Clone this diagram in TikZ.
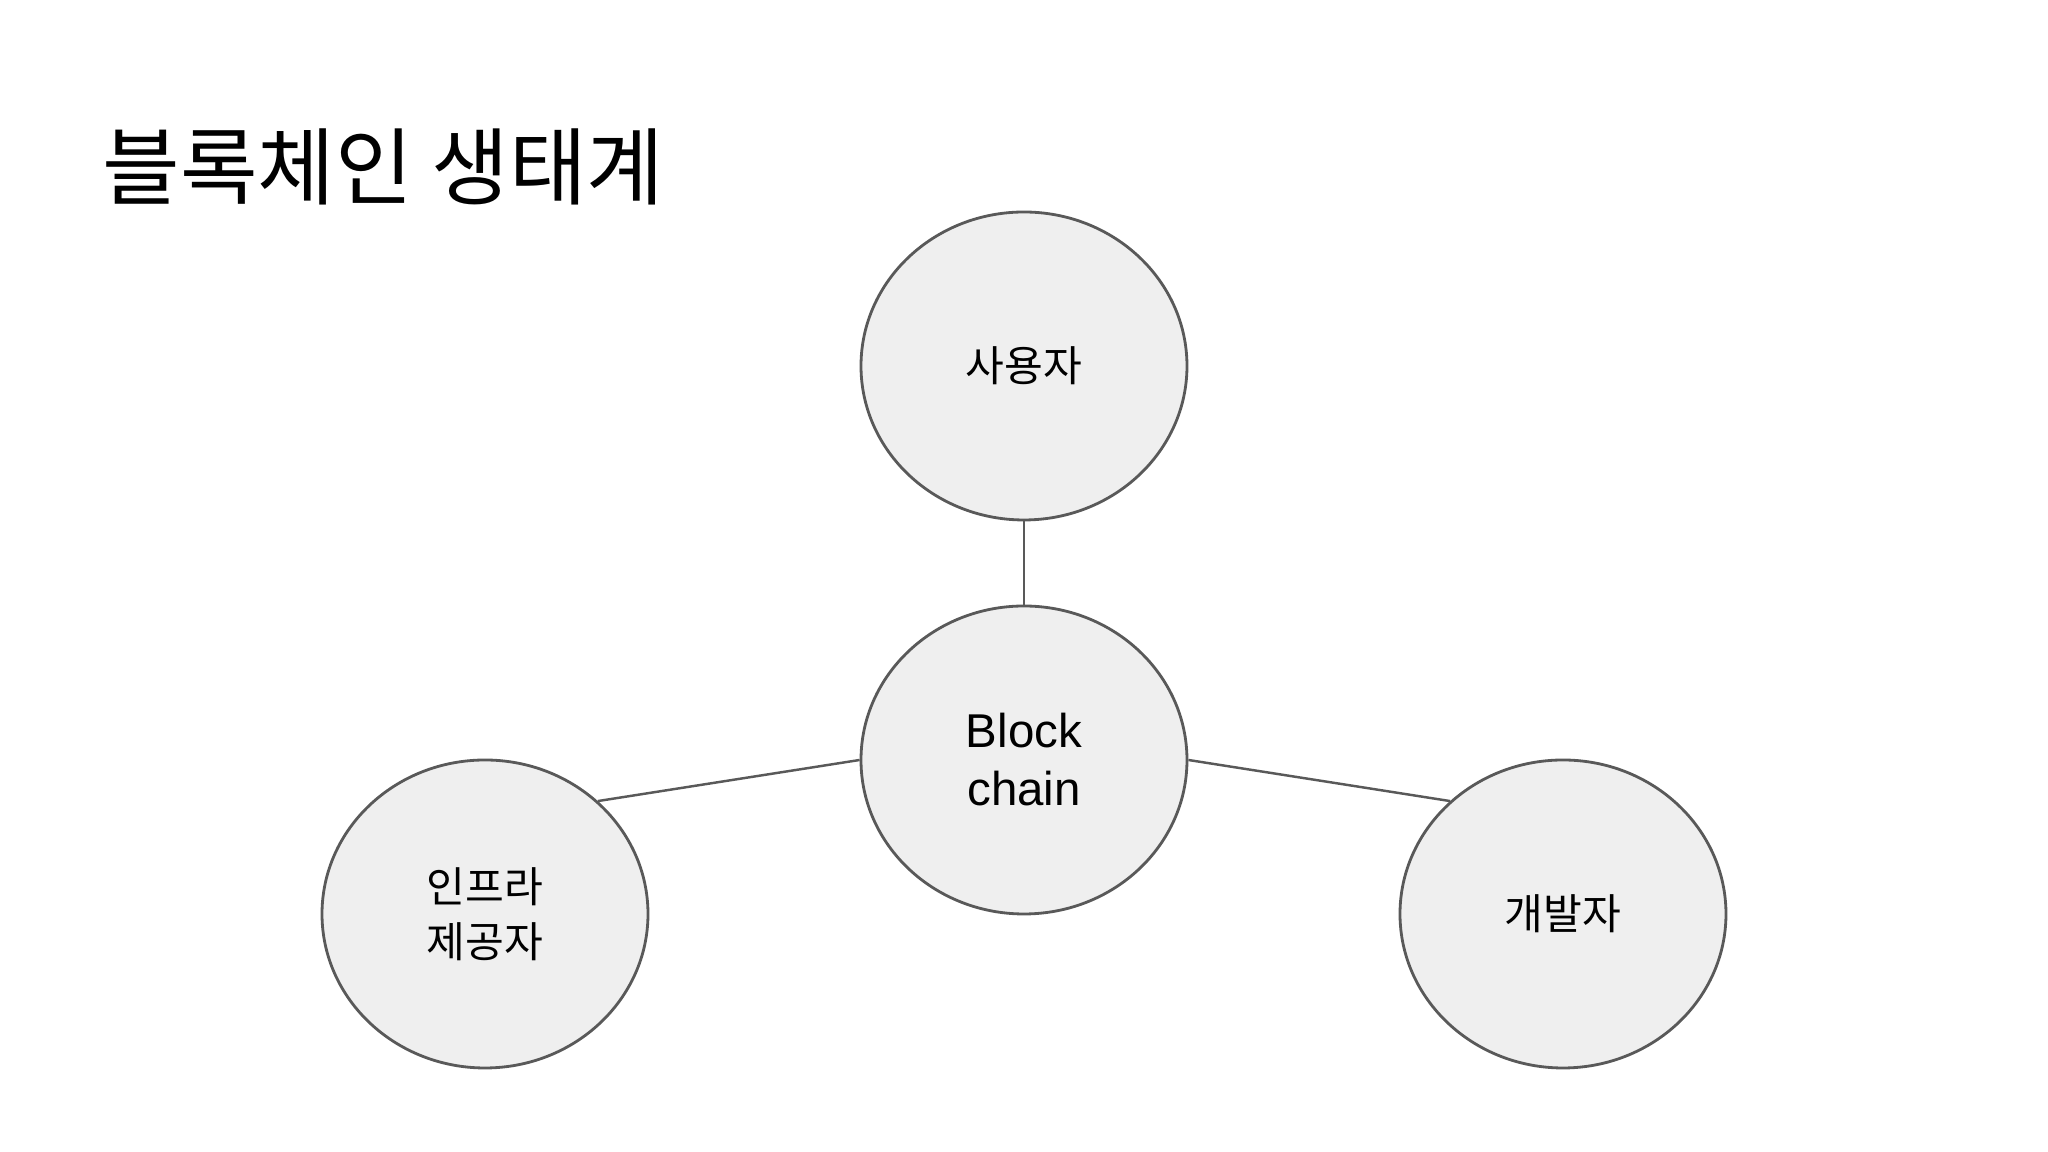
\documentclass[tikz,border=0pt]{standalone}
\usepackage{fontspec}
\setmainfont{Liberation Sans}
\newfontfamily\cjk{Noto Sans CJK KR}
\usetikzlibrary{shapes.geometric}
\definecolor{ellfill}{HTML}{EFEFEF}
\definecolor{elldraw}{HTML}{595959}
\begin{document}
\begin{tikzpicture}[x=1cm,y=1cm,
  bubble/.style={ellipse,draw=elldraw,fill=ellfill,line width=0.8pt,minimum width=3.26cm,minimum height=3.08cm,inner sep=0pt,align=center,font=\cjk\fontsize{12}{15.5}\selectfont},
  link/.style={draw=elldraw,line width=0.7pt}]
\useasboundingbox (0,0) rectangle (20.48,11.52);
\node[anchor=west,font=\cjk\fontsize{24}{28}\selectfont] (title) at (0.9,9.85) {블록체인 생태계};
\node[bubble] (top) at (10.24,7.86) {사용자};
\node[bubble,font=\fontsize{13.5}{16.5}\selectfont] (mid) at (10.24,3.92) {Block\\chain};
\node[bubble] (left) at (4.85,2.38) {인프라\\제공자};
\node[bubble] (right) at (15.63,2.38) {개발자};
\draw[link] (top.south) -- (mid.north);
\draw[link] (mid.west) -- (left.45);
\draw[link] (mid.east) -- (right.135);
\end{tikzpicture}
\end{document}
